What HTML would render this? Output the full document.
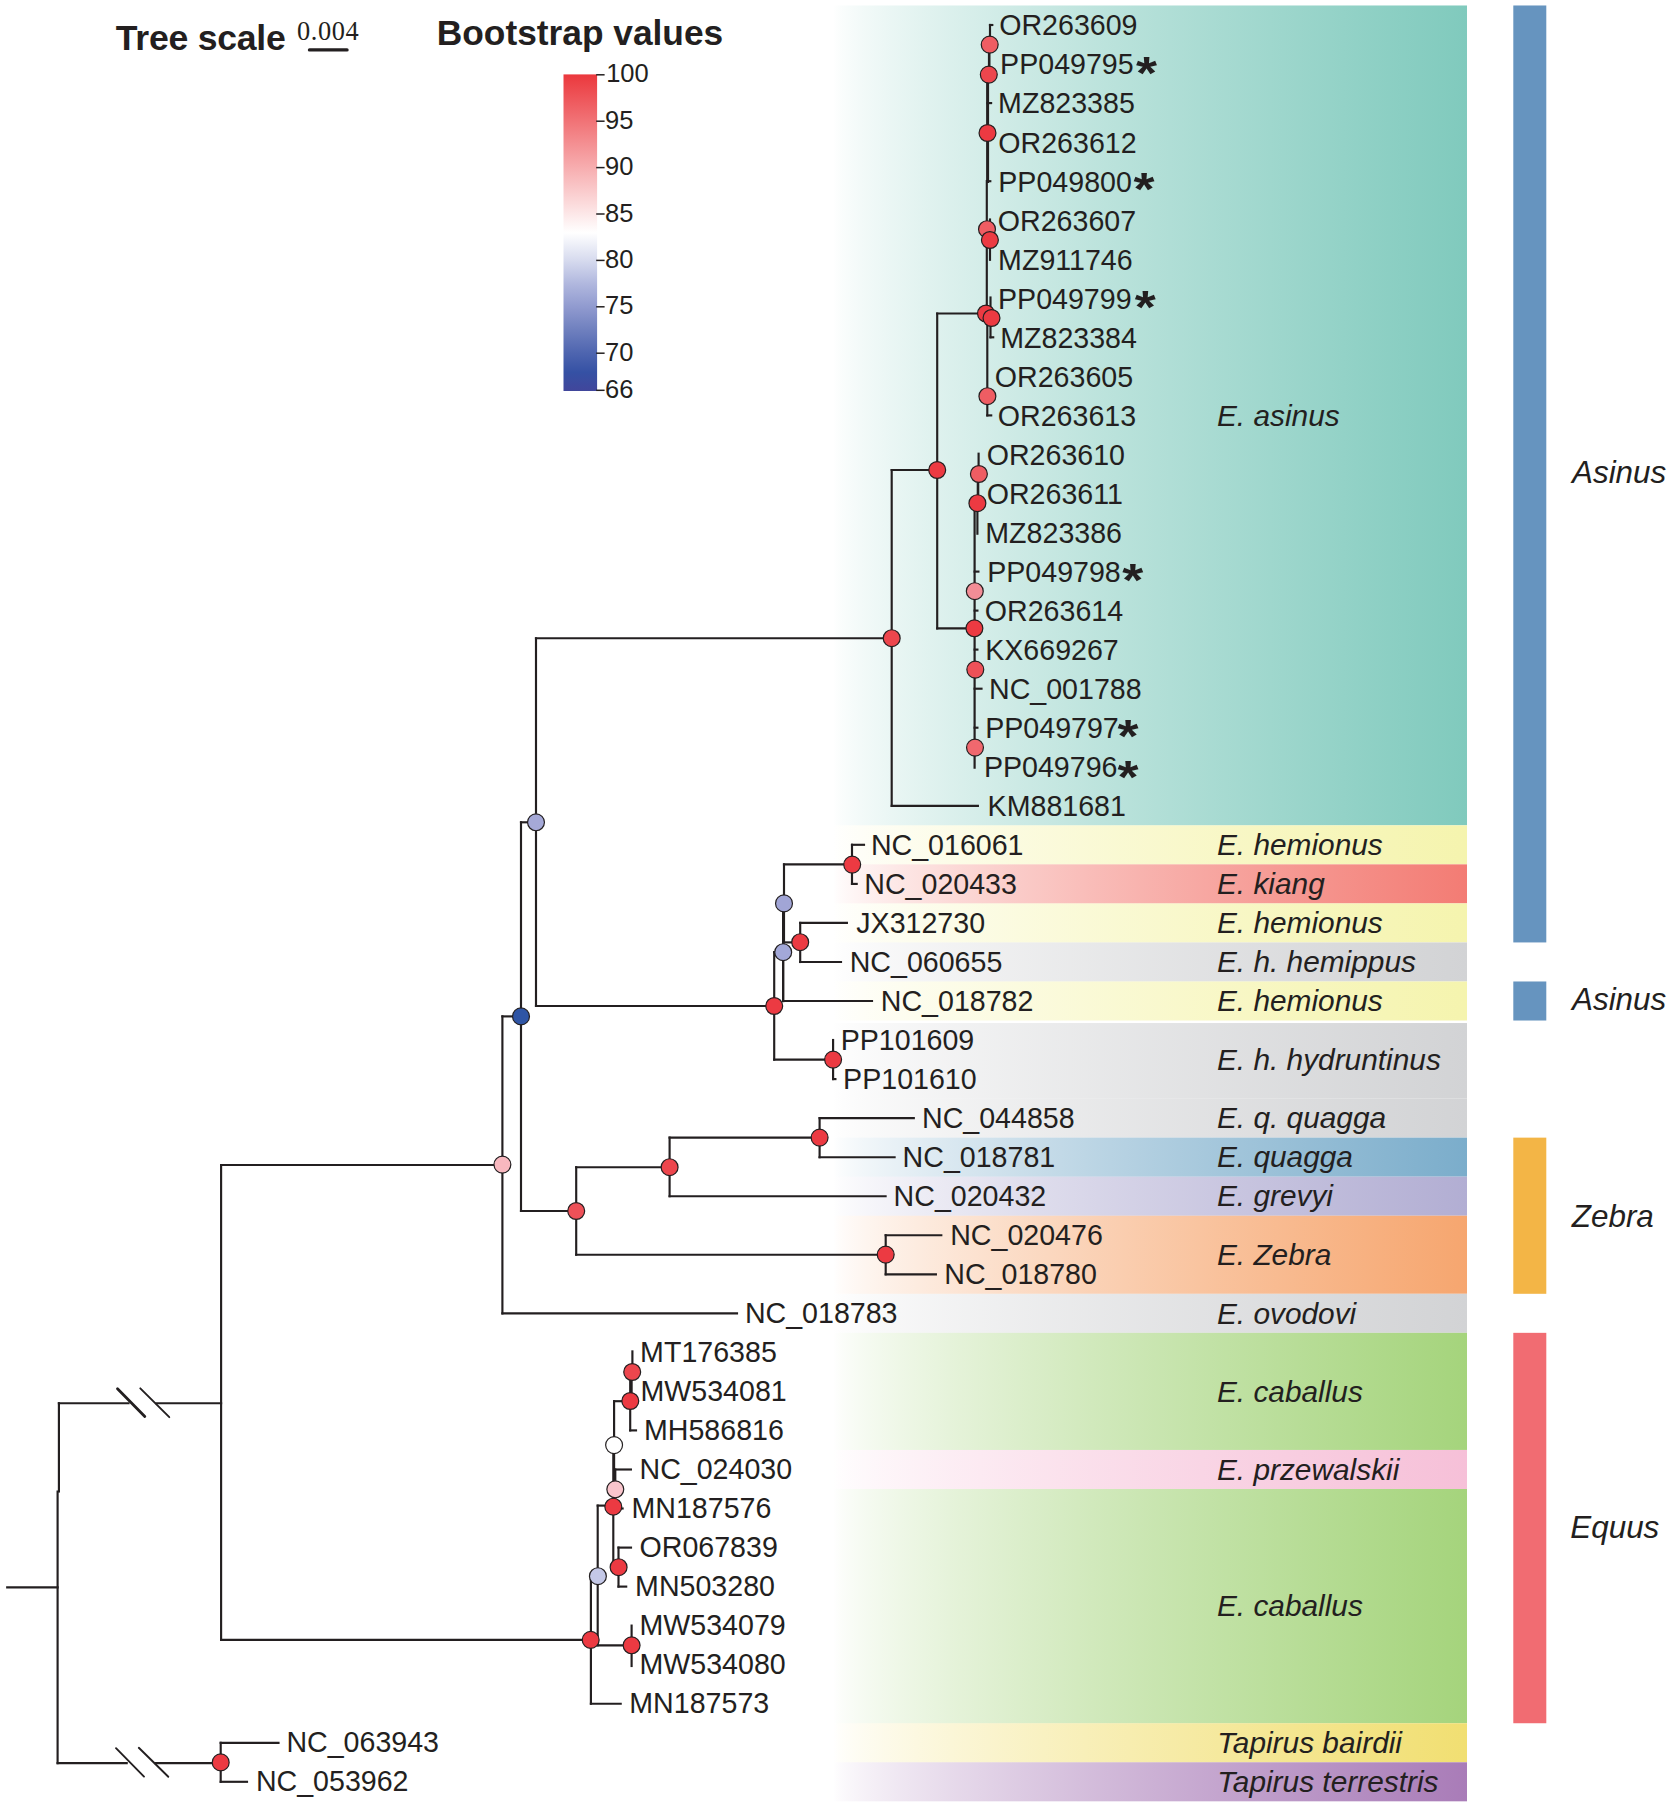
<!DOCTYPE html>
<html lang="en">
<head>
<meta charset="utf-8">
<title>Phylogenetic tree of Equus mitogenomes</title>
<style>
html,body{margin:0;padding:0;background:#fff;}
body{width:1670px;height:1808px;overflow:hidden;}
svg{display:block;}
</style>
</head>
<body>
<svg width="1670" height="1808" viewBox="0 0 1670 1808">
<rect x="0" y="0" width="1670" height="1808" fill="#ffffff"/>
<defs>
<linearGradient id="g-teal" gradientUnits="userSpaceOnUse" x1="833.5" y1="0" x2="1467" y2="0"><stop offset="0.000" stop-color="#80cabd" stop-opacity="0.000"/><stop offset="0.005" stop-color="#80cabd" stop-opacity="0.019"/><stop offset="0.010" stop-color="#80cabd" stop-opacity="0.032"/><stop offset="0.020" stop-color="#80cabd" stop-opacity="0.053"/><stop offset="0.035" stop-color="#80cabd" stop-opacity="0.081"/><stop offset="0.050" stop-color="#80cabd" stop-opacity="0.106"/><stop offset="0.075" stop-color="#80cabd" stop-opacity="0.143"/><stop offset="0.100" stop-color="#80cabd" stop-opacity="0.178"/><stop offset="0.150" stop-color="#80cabd" stop-opacity="0.241"/><stop offset="0.200" stop-color="#80cabd" stop-opacity="0.299"/><stop offset="0.300" stop-color="#80cabd" stop-opacity="0.405"/><stop offset="0.400" stop-color="#80cabd" stop-opacity="0.503"/><stop offset="0.500" stop-color="#80cabd" stop-opacity="0.595"/><stop offset="0.600" stop-color="#80cabd" stop-opacity="0.682"/><stop offset="0.700" stop-color="#80cabd" stop-opacity="0.765"/><stop offset="0.800" stop-color="#80cabd" stop-opacity="0.846"/><stop offset="0.900" stop-color="#80cabd" stop-opacity="0.924"/><stop offset="1.000" stop-color="#80cabd" stop-opacity="1.000"/></linearGradient>
<linearGradient id="g-yel" gradientUnits="userSpaceOnUse" x1="833.5" y1="0" x2="1467" y2="0"><stop offset="0.000" stop-color="#f5f4ae" stop-opacity="0.000"/><stop offset="0.005" stop-color="#f5f4ae" stop-opacity="0.019"/><stop offset="0.010" stop-color="#f5f4ae" stop-opacity="0.032"/><stop offset="0.020" stop-color="#f5f4ae" stop-opacity="0.053"/><stop offset="0.035" stop-color="#f5f4ae" stop-opacity="0.081"/><stop offset="0.050" stop-color="#f5f4ae" stop-opacity="0.106"/><stop offset="0.075" stop-color="#f5f4ae" stop-opacity="0.143"/><stop offset="0.100" stop-color="#f5f4ae" stop-opacity="0.178"/><stop offset="0.150" stop-color="#f5f4ae" stop-opacity="0.241"/><stop offset="0.200" stop-color="#f5f4ae" stop-opacity="0.299"/><stop offset="0.300" stop-color="#f5f4ae" stop-opacity="0.405"/><stop offset="0.400" stop-color="#f5f4ae" stop-opacity="0.503"/><stop offset="0.500" stop-color="#f5f4ae" stop-opacity="0.595"/><stop offset="0.600" stop-color="#f5f4ae" stop-opacity="0.682"/><stop offset="0.700" stop-color="#f5f4ae" stop-opacity="0.765"/><stop offset="0.800" stop-color="#f5f4ae" stop-opacity="0.846"/><stop offset="0.900" stop-color="#f5f4ae" stop-opacity="0.924"/><stop offset="1.000" stop-color="#f5f4ae" stop-opacity="1.000"/></linearGradient>
<linearGradient id="g-kia" gradientUnits="userSpaceOnUse" x1="833.5" y1="0" x2="1467" y2="0"><stop offset="0.000" stop-color="#f37c74" stop-opacity="0.000"/><stop offset="0.005" stop-color="#f37c74" stop-opacity="0.019"/><stop offset="0.010" stop-color="#f37c74" stop-opacity="0.032"/><stop offset="0.020" stop-color="#f37c74" stop-opacity="0.053"/><stop offset="0.035" stop-color="#f37c74" stop-opacity="0.081"/><stop offset="0.050" stop-color="#f37c74" stop-opacity="0.106"/><stop offset="0.075" stop-color="#f37c74" stop-opacity="0.143"/><stop offset="0.100" stop-color="#f37c74" stop-opacity="0.178"/><stop offset="0.150" stop-color="#f37c74" stop-opacity="0.241"/><stop offset="0.200" stop-color="#f37c74" stop-opacity="0.299"/><stop offset="0.300" stop-color="#f37c74" stop-opacity="0.405"/><stop offset="0.400" stop-color="#f37c74" stop-opacity="0.503"/><stop offset="0.500" stop-color="#f37c74" stop-opacity="0.595"/><stop offset="0.600" stop-color="#f37c74" stop-opacity="0.682"/><stop offset="0.700" stop-color="#f37c74" stop-opacity="0.765"/><stop offset="0.800" stop-color="#f37c74" stop-opacity="0.846"/><stop offset="0.900" stop-color="#f37c74" stop-opacity="0.924"/><stop offset="1.000" stop-color="#f37c74" stop-opacity="1.000"/></linearGradient>
<linearGradient id="g-gry" gradientUnits="userSpaceOnUse" x1="833.5" y1="0" x2="1467" y2="0"><stop offset="0.000" stop-color="#d2d3d5" stop-opacity="0.000"/><stop offset="0.005" stop-color="#d2d3d5" stop-opacity="0.019"/><stop offset="0.010" stop-color="#d2d3d5" stop-opacity="0.032"/><stop offset="0.020" stop-color="#d2d3d5" stop-opacity="0.053"/><stop offset="0.035" stop-color="#d2d3d5" stop-opacity="0.081"/><stop offset="0.050" stop-color="#d2d3d5" stop-opacity="0.106"/><stop offset="0.075" stop-color="#d2d3d5" stop-opacity="0.143"/><stop offset="0.100" stop-color="#d2d3d5" stop-opacity="0.178"/><stop offset="0.150" stop-color="#d2d3d5" stop-opacity="0.241"/><stop offset="0.200" stop-color="#d2d3d5" stop-opacity="0.299"/><stop offset="0.300" stop-color="#d2d3d5" stop-opacity="0.405"/><stop offset="0.400" stop-color="#d2d3d5" stop-opacity="0.503"/><stop offset="0.500" stop-color="#d2d3d5" stop-opacity="0.595"/><stop offset="0.600" stop-color="#d2d3d5" stop-opacity="0.682"/><stop offset="0.700" stop-color="#d2d3d5" stop-opacity="0.765"/><stop offset="0.800" stop-color="#d2d3d5" stop-opacity="0.846"/><stop offset="0.900" stop-color="#d2d3d5" stop-opacity="0.924"/><stop offset="1.000" stop-color="#d2d3d5" stop-opacity="1.000"/></linearGradient>
<linearGradient id="g-qua" gradientUnits="userSpaceOnUse" x1="833.5" y1="0" x2="1467" y2="0"><stop offset="0.000" stop-color="#7badcb" stop-opacity="0.000"/><stop offset="0.005" stop-color="#7badcb" stop-opacity="0.019"/><stop offset="0.010" stop-color="#7badcb" stop-opacity="0.032"/><stop offset="0.020" stop-color="#7badcb" stop-opacity="0.053"/><stop offset="0.035" stop-color="#7badcb" stop-opacity="0.081"/><stop offset="0.050" stop-color="#7badcb" stop-opacity="0.106"/><stop offset="0.075" stop-color="#7badcb" stop-opacity="0.143"/><stop offset="0.100" stop-color="#7badcb" stop-opacity="0.178"/><stop offset="0.150" stop-color="#7badcb" stop-opacity="0.241"/><stop offset="0.200" stop-color="#7badcb" stop-opacity="0.299"/><stop offset="0.300" stop-color="#7badcb" stop-opacity="0.405"/><stop offset="0.400" stop-color="#7badcb" stop-opacity="0.503"/><stop offset="0.500" stop-color="#7badcb" stop-opacity="0.595"/><stop offset="0.600" stop-color="#7badcb" stop-opacity="0.682"/><stop offset="0.700" stop-color="#7badcb" stop-opacity="0.765"/><stop offset="0.800" stop-color="#7badcb" stop-opacity="0.846"/><stop offset="0.900" stop-color="#7badcb" stop-opacity="0.924"/><stop offset="1.000" stop-color="#7badcb" stop-opacity="1.000"/></linearGradient>
<linearGradient id="g-gre" gradientUnits="userSpaceOnUse" x1="833.5" y1="0" x2="1467" y2="0"><stop offset="0.000" stop-color="#b2aed3" stop-opacity="0.000"/><stop offset="0.005" stop-color="#b2aed3" stop-opacity="0.019"/><stop offset="0.010" stop-color="#b2aed3" stop-opacity="0.032"/><stop offset="0.020" stop-color="#b2aed3" stop-opacity="0.053"/><stop offset="0.035" stop-color="#b2aed3" stop-opacity="0.081"/><stop offset="0.050" stop-color="#b2aed3" stop-opacity="0.106"/><stop offset="0.075" stop-color="#b2aed3" stop-opacity="0.143"/><stop offset="0.100" stop-color="#b2aed3" stop-opacity="0.178"/><stop offset="0.150" stop-color="#b2aed3" stop-opacity="0.241"/><stop offset="0.200" stop-color="#b2aed3" stop-opacity="0.299"/><stop offset="0.300" stop-color="#b2aed3" stop-opacity="0.405"/><stop offset="0.400" stop-color="#b2aed3" stop-opacity="0.503"/><stop offset="0.500" stop-color="#b2aed3" stop-opacity="0.595"/><stop offset="0.600" stop-color="#b2aed3" stop-opacity="0.682"/><stop offset="0.700" stop-color="#b2aed3" stop-opacity="0.765"/><stop offset="0.800" stop-color="#b2aed3" stop-opacity="0.846"/><stop offset="0.900" stop-color="#b2aed3" stop-opacity="0.924"/><stop offset="1.000" stop-color="#b2aed3" stop-opacity="1.000"/></linearGradient>
<linearGradient id="g-zeb" gradientUnits="userSpaceOnUse" x1="833.5" y1="0" x2="1467" y2="0"><stop offset="0.000" stop-color="#f6a66f" stop-opacity="0.000"/><stop offset="0.005" stop-color="#f6a66f" stop-opacity="0.019"/><stop offset="0.010" stop-color="#f6a66f" stop-opacity="0.032"/><stop offset="0.020" stop-color="#f6a66f" stop-opacity="0.053"/><stop offset="0.035" stop-color="#f6a66f" stop-opacity="0.081"/><stop offset="0.050" stop-color="#f6a66f" stop-opacity="0.106"/><stop offset="0.075" stop-color="#f6a66f" stop-opacity="0.143"/><stop offset="0.100" stop-color="#f6a66f" stop-opacity="0.178"/><stop offset="0.150" stop-color="#f6a66f" stop-opacity="0.241"/><stop offset="0.200" stop-color="#f6a66f" stop-opacity="0.299"/><stop offset="0.300" stop-color="#f6a66f" stop-opacity="0.405"/><stop offset="0.400" stop-color="#f6a66f" stop-opacity="0.503"/><stop offset="0.500" stop-color="#f6a66f" stop-opacity="0.595"/><stop offset="0.600" stop-color="#f6a66f" stop-opacity="0.682"/><stop offset="0.700" stop-color="#f6a66f" stop-opacity="0.765"/><stop offset="0.800" stop-color="#f6a66f" stop-opacity="0.846"/><stop offset="0.900" stop-color="#f6a66f" stop-opacity="0.924"/><stop offset="1.000" stop-color="#f6a66f" stop-opacity="1.000"/></linearGradient>
<linearGradient id="g-cab" gradientUnits="userSpaceOnUse" x1="833.5" y1="0" x2="1467" y2="0"><stop offset="0.000" stop-color="#a5d47c" stop-opacity="0.000"/><stop offset="0.005" stop-color="#a5d47c" stop-opacity="0.019"/><stop offset="0.010" stop-color="#a5d47c" stop-opacity="0.032"/><stop offset="0.020" stop-color="#a5d47c" stop-opacity="0.053"/><stop offset="0.035" stop-color="#a5d47c" stop-opacity="0.081"/><stop offset="0.050" stop-color="#a5d47c" stop-opacity="0.106"/><stop offset="0.075" stop-color="#a5d47c" stop-opacity="0.143"/><stop offset="0.100" stop-color="#a5d47c" stop-opacity="0.178"/><stop offset="0.150" stop-color="#a5d47c" stop-opacity="0.241"/><stop offset="0.200" stop-color="#a5d47c" stop-opacity="0.299"/><stop offset="0.300" stop-color="#a5d47c" stop-opacity="0.405"/><stop offset="0.400" stop-color="#a5d47c" stop-opacity="0.503"/><stop offset="0.500" stop-color="#a5d47c" stop-opacity="0.595"/><stop offset="0.600" stop-color="#a5d47c" stop-opacity="0.682"/><stop offset="0.700" stop-color="#a5d47c" stop-opacity="0.765"/><stop offset="0.800" stop-color="#a5d47c" stop-opacity="0.846"/><stop offset="0.900" stop-color="#a5d47c" stop-opacity="0.924"/><stop offset="1.000" stop-color="#a5d47c" stop-opacity="1.000"/></linearGradient>
<linearGradient id="g-prz" gradientUnits="userSpaceOnUse" x1="833.5" y1="0" x2="1467" y2="0"><stop offset="0.000" stop-color="#f6c0d8" stop-opacity="0.000"/><stop offset="0.005" stop-color="#f6c0d8" stop-opacity="0.019"/><stop offset="0.010" stop-color="#f6c0d8" stop-opacity="0.032"/><stop offset="0.020" stop-color="#f6c0d8" stop-opacity="0.053"/><stop offset="0.035" stop-color="#f6c0d8" stop-opacity="0.081"/><stop offset="0.050" stop-color="#f6c0d8" stop-opacity="0.106"/><stop offset="0.075" stop-color="#f6c0d8" stop-opacity="0.143"/><stop offset="0.100" stop-color="#f6c0d8" stop-opacity="0.178"/><stop offset="0.150" stop-color="#f6c0d8" stop-opacity="0.241"/><stop offset="0.200" stop-color="#f6c0d8" stop-opacity="0.299"/><stop offset="0.300" stop-color="#f6c0d8" stop-opacity="0.405"/><stop offset="0.400" stop-color="#f6c0d8" stop-opacity="0.503"/><stop offset="0.500" stop-color="#f6c0d8" stop-opacity="0.595"/><stop offset="0.600" stop-color="#f6c0d8" stop-opacity="0.682"/><stop offset="0.700" stop-color="#f6c0d8" stop-opacity="0.765"/><stop offset="0.800" stop-color="#f6c0d8" stop-opacity="0.846"/><stop offset="0.900" stop-color="#f6c0d8" stop-opacity="0.924"/><stop offset="1.000" stop-color="#f6c0d8" stop-opacity="1.000"/></linearGradient>
<linearGradient id="g-bai" gradientUnits="userSpaceOnUse" x1="833.5" y1="0" x2="1467" y2="0"><stop offset="0.000" stop-color="#f1df72" stop-opacity="0.000"/><stop offset="0.005" stop-color="#f1df72" stop-opacity="0.019"/><stop offset="0.010" stop-color="#f1df72" stop-opacity="0.032"/><stop offset="0.020" stop-color="#f1df72" stop-opacity="0.053"/><stop offset="0.035" stop-color="#f1df72" stop-opacity="0.081"/><stop offset="0.050" stop-color="#f1df72" stop-opacity="0.106"/><stop offset="0.075" stop-color="#f1df72" stop-opacity="0.143"/><stop offset="0.100" stop-color="#f1df72" stop-opacity="0.178"/><stop offset="0.150" stop-color="#f1df72" stop-opacity="0.241"/><stop offset="0.200" stop-color="#f1df72" stop-opacity="0.299"/><stop offset="0.300" stop-color="#f1df72" stop-opacity="0.405"/><stop offset="0.400" stop-color="#f1df72" stop-opacity="0.503"/><stop offset="0.500" stop-color="#f1df72" stop-opacity="0.595"/><stop offset="0.600" stop-color="#f1df72" stop-opacity="0.682"/><stop offset="0.700" stop-color="#f1df72" stop-opacity="0.765"/><stop offset="0.800" stop-color="#f1df72" stop-opacity="0.846"/><stop offset="0.900" stop-color="#f1df72" stop-opacity="0.924"/><stop offset="1.000" stop-color="#f1df72" stop-opacity="1.000"/></linearGradient>
<linearGradient id="g-ter" gradientUnits="userSpaceOnUse" x1="833.5" y1="0" x2="1467" y2="0"><stop offset="0.000" stop-color="#a97cb8" stop-opacity="0.000"/><stop offset="0.005" stop-color="#a97cb8" stop-opacity="0.019"/><stop offset="0.010" stop-color="#a97cb8" stop-opacity="0.032"/><stop offset="0.020" stop-color="#a97cb8" stop-opacity="0.053"/><stop offset="0.035" stop-color="#a97cb8" stop-opacity="0.081"/><stop offset="0.050" stop-color="#a97cb8" stop-opacity="0.106"/><stop offset="0.075" stop-color="#a97cb8" stop-opacity="0.143"/><stop offset="0.100" stop-color="#a97cb8" stop-opacity="0.178"/><stop offset="0.150" stop-color="#a97cb8" stop-opacity="0.241"/><stop offset="0.200" stop-color="#a97cb8" stop-opacity="0.299"/><stop offset="0.300" stop-color="#a97cb8" stop-opacity="0.405"/><stop offset="0.400" stop-color="#a97cb8" stop-opacity="0.503"/><stop offset="0.500" stop-color="#a97cb8" stop-opacity="0.595"/><stop offset="0.600" stop-color="#a97cb8" stop-opacity="0.682"/><stop offset="0.700" stop-color="#a97cb8" stop-opacity="0.765"/><stop offset="0.800" stop-color="#a97cb8" stop-opacity="0.846"/><stop offset="0.900" stop-color="#a97cb8" stop-opacity="0.924"/><stop offset="1.000" stop-color="#a97cb8" stop-opacity="1.000"/></linearGradient>
<linearGradient id="g-boot" x1="0" y1="0" x2="0" y2="1"><stop offset="0.0000" stop-color="#eb383d"/><stop offset="0.5000" stop-color="#ffffff"/><stop offset="0.5882" stop-color="#d6daee"/><stop offset="0.6618" stop-color="#b0b7de"/><stop offset="0.7353" stop-color="#909acf"/><stop offset="0.8088" stop-color="#6e7fbe"/><stop offset="0.8824" stop-color="#4d64af"/><stop offset="0.9412" stop-color="#3551a4"/><stop offset="1.0000" stop-color="#41469b"/></linearGradient>
</defs>
<g id="bands">
<rect x="833.5" y="5.48" width="633.5" height="819.84" fill="url(#g-teal)"/>
<rect x="833.5" y="825.32" width="633.5" height="39.04" fill="url(#g-yel)"/>
<rect x="833.5" y="864.36" width="633.5" height="39.04" fill="url(#g-kia)"/>
<rect x="833.5" y="903.40" width="633.5" height="39.04" fill="url(#g-yel)"/>
<rect x="833.5" y="942.44" width="633.5" height="39.04" fill="url(#g-gry)"/>
<rect x="833.5" y="981.48" width="633.5" height="39.04" fill="url(#g-yel)"/>
<rect x="833.5" y="1023.02" width="633.5" height="75.58" fill="url(#g-gry)"/>
<rect x="833.5" y="1098.60" width="633.5" height="39.04" fill="url(#g-gry)"/>
<rect x="833.5" y="1137.64" width="633.5" height="39.04" fill="url(#g-qua)"/>
<rect x="833.5" y="1176.68" width="633.5" height="39.04" fill="url(#g-gre)"/>
<rect x="833.5" y="1215.72" width="633.5" height="78.08" fill="url(#g-zeb)"/>
<rect x="833.5" y="1293.80" width="633.5" height="39.04" fill="url(#g-gry)"/>
<rect x="833.5" y="1332.84" width="633.5" height="117.12" fill="url(#g-cab)"/>
<rect x="833.5" y="1449.96" width="633.5" height="39.04" fill="url(#g-prz)"/>
<rect x="833.5" y="1489.00" width="633.5" height="234.24" fill="url(#g-cab)"/>
<rect x="833.5" y="1723.24" width="633.5" height="39.04" fill="url(#g-bai)"/>
<rect x="833.5" y="1762.28" width="633.5" height="39.04" fill="url(#g-ter)"/>
</g>
<g id="groupbars">
<rect x="1513.3" y="5.48" width="33" height="936.96" fill="#6694bf"/>
<rect x="1513.3" y="981.48" width="33" height="39.04" fill="#6694bf"/>
<rect x="1513.3" y="1137.64" width="33" height="156.16" fill="#f3b546"/>
<rect x="1513.3" y="1332.84" width="33" height="390.40" fill="#f16c72"/>
</g>
<g id="tree" stroke="#231f20" stroke-linecap="square" fill="none">
<line x1="7.2" y1="1587.3" x2="57.6" y2="1587.3" stroke-width="2.15"/>
<line x1="58.9" y1="1403.2" x2="58.9" y2="1491.5" stroke-width="2.15"/>
<line x1="57.6" y1="1491.5" x2="57.6" y2="1763.1" stroke-width="2.15"/>
<line x1="58.9" y1="1403.2" x2="128.5" y2="1403.2" stroke-width="2.15"/>
<line x1="156.4" y1="1403.2" x2="221.1" y2="1403.2" stroke-width="2.15"/>
<line x1="57.6" y1="1763.1" x2="126.7" y2="1763.1" stroke-width="2.15"/>
<line x1="155.5" y1="1763.1" x2="220.7" y2="1763.1" stroke-width="2.15"/>
<line x1="221.1" y1="1165.0" x2="221.1" y2="1639.8" stroke-width="2.15"/>
<line x1="221.1" y1="1165.0" x2="502.4" y2="1165.0" stroke-width="2.15"/>
<line x1="221.1" y1="1639.8" x2="590.7" y2="1639.8" stroke-width="2.15"/>
<line x1="220.7" y1="1742.8" x2="220.7" y2="1781.8" stroke-width="2.15"/>
<line x1="220.7" y1="1742.8" x2="278.5" y2="1742.8" stroke-width="2.15"/>
<line x1="220.7" y1="1781.8" x2="247.0" y2="1781.8" stroke-width="2.15"/>
<line x1="502.4" y1="1016.4" x2="502.4" y2="1313.3" stroke-width="2.15"/>
<line x1="502.4" y1="1313.3" x2="737.0" y2="1313.3" stroke-width="2.15"/>
<line x1="502.4" y1="1016.4" x2="521.0" y2="1016.4" stroke-width="2.15"/>
<line x1="521.0" y1="822.3" x2="521.0" y2="1211.0" stroke-width="2.15"/>
<line x1="521.0" y1="822.3" x2="536.0" y2="822.3" stroke-width="2.15"/>
<line x1="521.0" y1="1211.0" x2="576.2" y2="1211.0" stroke-width="2.15"/>
<line x1="536.0" y1="638.2" x2="536.0" y2="1006.0" stroke-width="2.15"/>
<line x1="536.0" y1="638.2" x2="891.7" y2="638.2" stroke-width="2.15"/>
<line x1="536.0" y1="1006.0" x2="774.2" y2="1006.0" stroke-width="2.15"/>
<line x1="891.7" y1="470.0" x2="891.7" y2="805.8" stroke-width="2.15"/>
<line x1="891.7" y1="805.8" x2="977.9" y2="805.8" stroke-width="2.15"/>
<line x1="891.7" y1="470.0" x2="937.2" y2="470.0" stroke-width="2.15"/>
<line x1="937.2" y1="313.5" x2="937.2" y2="628.3" stroke-width="2.15"/>
<line x1="937.2" y1="313.5" x2="986.0" y2="313.5" stroke-width="2.15"/>
<line x1="937.2" y1="628.3" x2="974.4" y2="628.3" stroke-width="2.15"/>
<line x1="990.0" y1="25.0" x2="990.0" y2="44.6" stroke-width="2.15"/>
<line x1="990.0" y1="25.0" x2="992.3" y2="25.0" stroke-width="2.15"/>
<line x1="989.2" y1="44.6" x2="989.2" y2="74.6" stroke-width="2.6"/>
<line x1="987.6" y1="74.6" x2="987.6" y2="181.5" stroke-width="3.0"/>
<line x1="987.6" y1="103.1" x2="991.1" y2="103.1" stroke-width="2.15"/>
<line x1="987.2" y1="181.2" x2="990.3" y2="181.2" stroke-width="2.15"/>
<line x1="986.8" y1="181.0" x2="986.8" y2="313.5" stroke-width="2.15"/>
<line x1="990.0" y1="219.5" x2="990.0" y2="240.0" stroke-width="2.15"/>
<line x1="990.0" y1="240.0" x2="990.0" y2="259.8" stroke-width="2.15"/>
<line x1="990.5" y1="297.5" x2="990.5" y2="337.3" stroke-width="2.15"/>
<line x1="990.5" y1="337.3" x2="993.2" y2="337.3" stroke-width="2.15"/>
<line x1="987.3" y1="313.5" x2="987.3" y2="415.4" stroke-width="2.15"/>
<line x1="987.3" y1="415.4" x2="991.2" y2="415.4" stroke-width="2.15"/>
<line x1="978.6" y1="453.7" x2="978.6" y2="474.0" stroke-width="2.15"/>
<line x1="978.0" y1="474.0" x2="978.0" y2="503.0" stroke-width="2.6"/>
<line x1="977.4" y1="503.0" x2="977.4" y2="533.7" stroke-width="2.15"/>
<line x1="974.6" y1="503.0" x2="974.6" y2="767.6" stroke-width="2.2"/>
<line x1="974.6" y1="503.0" x2="977.4" y2="503.0" stroke-width="2.15"/>
<line x1="974.6" y1="571.6" x2="978.4" y2="571.6" stroke-width="2.15"/>
<line x1="974.6" y1="610.6" x2="977.4" y2="610.6" stroke-width="2.15"/>
<line x1="974.6" y1="649.6" x2="977.4" y2="649.6" stroke-width="2.15"/>
<line x1="974.6" y1="688.7" x2="981.5" y2="688.7" stroke-width="2.15"/>
<line x1="974.6" y1="727.7" x2="977.4" y2="727.7" stroke-width="2.15"/>
<line x1="774.2" y1="952.2" x2="774.2" y2="1059.6" stroke-width="2.15"/>
<line x1="774.2" y1="952.2" x2="783.2" y2="952.2" stroke-width="2.15"/>
<line x1="774.2" y1="1059.6" x2="833.1" y2="1059.6" stroke-width="2.15"/>
<line x1="783.2" y1="903.4" x2="783.2" y2="1001.0" stroke-width="2.4"/>
<line x1="783.2" y1="1001.0" x2="872.0" y2="1001.0" stroke-width="2.15"/>
<line x1="784.0" y1="864.4" x2="784.0" y2="942.4" stroke-width="2.15"/>
<line x1="784.0" y1="864.4" x2="852.0" y2="864.4" stroke-width="2.15"/>
<line x1="784.0" y1="942.4" x2="800.2" y2="942.4" stroke-width="2.15"/>
<line x1="852.0" y1="844.8" x2="852.0" y2="883.9" stroke-width="2.15"/>
<line x1="852.0" y1="844.8" x2="864.0" y2="844.8" stroke-width="2.15"/>
<line x1="852.0" y1="883.9" x2="856.7" y2="883.9" stroke-width="2.15"/>
<line x1="800.2" y1="922.9" x2="800.2" y2="962.0" stroke-width="2.15"/>
<line x1="800.2" y1="922.9" x2="846.9" y2="922.9" stroke-width="2.15"/>
<line x1="800.2" y1="962.0" x2="841.0" y2="962.0" stroke-width="2.15"/>
<line x1="833.1" y1="1040.0" x2="833.1" y2="1079.1" stroke-width="2.15"/>
<line x1="833.1" y1="1079.1" x2="835.4" y2="1079.1" stroke-width="2.15"/>
<line x1="576.2" y1="1167.2" x2="576.2" y2="1254.7" stroke-width="2.15"/>
<line x1="576.2" y1="1167.2" x2="669.6" y2="1167.2" stroke-width="2.15"/>
<line x1="576.2" y1="1254.7" x2="885.7" y2="1254.7" stroke-width="2.15"/>
<line x1="669.6" y1="1137.6" x2="669.6" y2="1196.2" stroke-width="2.15"/>
<line x1="669.6" y1="1137.6" x2="819.6" y2="1137.6" stroke-width="2.15"/>
<line x1="669.6" y1="1196.2" x2="885.6" y2="1196.2" stroke-width="2.15"/>
<line x1="819.6" y1="1118.1" x2="819.6" y2="1157.2" stroke-width="2.15"/>
<line x1="819.6" y1="1118.1" x2="913.8" y2="1118.1" stroke-width="2.15"/>
<line x1="819.6" y1="1157.2" x2="894.6" y2="1157.2" stroke-width="2.15"/>
<line x1="885.7" y1="1235.2" x2="885.7" y2="1274.3" stroke-width="2.15"/>
<line x1="885.7" y1="1235.2" x2="941.3" y2="1235.2" stroke-width="2.15"/>
<line x1="885.7" y1="1274.3" x2="935.9" y2="1274.3" stroke-width="2.15"/>
<line x1="590.9" y1="1576.0" x2="590.9" y2="1703.7" stroke-width="2.15"/>
<line x1="590.9" y1="1703.7" x2="620.7" y2="1703.7" stroke-width="2.15"/>
<line x1="590.9" y1="1576.0" x2="597.7" y2="1576.0" stroke-width="2.15"/>
<line x1="597.7" y1="1505.6" x2="597.7" y2="1645.3" stroke-width="2.15"/>
<line x1="597.7" y1="1645.3" x2="631.6" y2="1645.3" stroke-width="2.15"/>
<line x1="597.7" y1="1505.6" x2="613.3" y2="1505.6" stroke-width="2.15"/>
<line x1="631.6" y1="1625.6" x2="631.6" y2="1666.0" stroke-width="2.15"/>
<line x1="613.3" y1="1445.0" x2="613.3" y2="1567.2" stroke-width="2.15"/>
<line x1="614.1" y1="1401.2" x2="614.1" y2="1489.0" stroke-width="2.15"/>
<line x1="615.3" y1="1469.5" x2="615.3" y2="1508.5" stroke-width="2.15"/>
<line x1="615.3" y1="1469.5" x2="630.9" y2="1469.5" stroke-width="2.15"/>
<line x1="615.3" y1="1508.5" x2="622.6" y2="1508.5" stroke-width="2.15"/>
<line x1="614.1" y1="1401.2" x2="630.2" y2="1401.2" stroke-width="2.15"/>
<line x1="613.3" y1="1567.2" x2="618.5" y2="1567.2" stroke-width="2.15"/>
<line x1="618.5" y1="1547.6" x2="618.5" y2="1586.6" stroke-width="2.15"/>
<line x1="618.5" y1="1547.6" x2="631.0" y2="1547.6" stroke-width="2.15"/>
<line x1="618.5" y1="1586.6" x2="626.2" y2="1586.6" stroke-width="2.15"/>
<line x1="630.2" y1="1372.0" x2="630.2" y2="1430.4" stroke-width="2.15"/>
<line x1="630.2" y1="1430.4" x2="636.0" y2="1430.4" stroke-width="2.15"/>
<line x1="631.4" y1="1372.0" x2="631.4" y2="1401.0" stroke-width="2.6"/>
<line x1="632.4" y1="1351.4" x2="632.4" y2="1372.0" stroke-width="2.15"/>
<g stroke-linecap="round">
<line x1="117.5" y1="1388.8" x2="144.8" y2="1416.6" stroke-width="2.8"/>
<line x1="140.3" y1="1388.3" x2="169.3" y2="1417.2" stroke-width="1.9"/>
<line x1="116" y1="1748.2" x2="144" y2="1776.6" stroke-width="1.9"/>
<line x1="138.8" y1="1747.8" x2="168.3" y2="1776.8" stroke-width="1.9"/>
</g>
</g>
<g id="nodes" stroke="#231f20" stroke-width="1.2">
<circle cx="989.7" cy="44.6" r="8.45" fill="#ef5d63"/>
<circle cx="988.8" cy="74.6" r="8.45" fill="#ed464d"/>
<circle cx="987.5" cy="133.0" r="8.45" fill="#ec3a42"/>
<circle cx="987.0" cy="229.2" r="8.45" fill="#ef5d63"/>
<circle cx="989.9" cy="240.0" r="8.45" fill="#ec3a42"/>
<circle cx="986.0" cy="313.5" r="8.45" fill="#ec3a42"/>
<circle cx="991.5" cy="318.0" r="8.45" fill="#ec3a42"/>
<circle cx="987.4" cy="396.2" r="8.45" fill="#ef5d63"/>
<circle cx="978.9" cy="474.0" r="8.45" fill="#ef5d63"/>
<circle cx="977.4" cy="503.2" r="8.45" fill="#ec3a42"/>
<circle cx="974.8" cy="591.2" r="8.45" fill="#f28d96"/>
<circle cx="974.4" cy="628.3" r="8.45" fill="#ec3a42"/>
<circle cx="975.3" cy="669.6" r="8.45" fill="#ee5158"/>
<circle cx="975.0" cy="747.6" r="8.45" fill="#f0686e"/>
<circle cx="937.2" cy="470.0" r="8.45" fill="#ec3a42"/>
<circle cx="891.7" cy="638.2" r="8.45" fill="#ed464d"/>
<circle cx="536.0" cy="822.3" r="8.45" fill="#a5a9d8"/>
<circle cx="521.0" cy="1016.4" r="8.45" fill="#2f55a5"/>
<circle cx="502.4" cy="1164.6" r="8.45" fill="#f8b8bf"/>
<circle cx="852.2" cy="864.6" r="8.45" fill="#ec3a42"/>
<circle cx="784.0" cy="903.4" r="8.45" fill="#a1a5d6"/>
<circle cx="800.2" cy="942.2" r="8.45" fill="#ec3a42"/>
<circle cx="783.2" cy="952.2" r="8.45" fill="#a3a8d8"/>
<circle cx="774.2" cy="1006.0" r="8.45" fill="#ec3a42"/>
<circle cx="833.1" cy="1059.6" r="8.45" fill="#ec3a42"/>
<circle cx="819.6" cy="1137.6" r="8.45" fill="#ec3a42"/>
<circle cx="669.6" cy="1167.2" r="8.45" fill="#ed464d"/>
<circle cx="576.2" cy="1211.0" r="8.45" fill="#ee5158"/>
<circle cx="885.7" cy="1254.6" r="8.45" fill="#ec3a42"/>
<circle cx="632.2" cy="1372.0" r="8.45" fill="#ed464d"/>
<circle cx="630.3" cy="1401.0" r="8.45" fill="#ec3a42"/>
<circle cx="614.1" cy="1445.1" r="8.45" fill="#ffffff"/>
<circle cx="615.3" cy="1489.3" r="8.45" fill="#f9c5cc"/>
<circle cx="613.3" cy="1506.7" r="8.45" fill="#ec3a42"/>
<circle cx="618.6" cy="1567.2" r="8.45" fill="#ec3a42"/>
<circle cx="597.9" cy="1576.2" r="8.45" fill="#c4c8e7"/>
<circle cx="590.7" cy="1639.9" r="8.45" fill="#ec3a42"/>
<circle cx="631.6" cy="1645.3" r="8.45" fill="#ec3a42"/>
<circle cx="220.7" cy="1762.4" r="8.45" fill="#ec3a42"/>
</g>
<g id="tips" fill="#231f20" font-family="'Liberation Sans', Arial, sans-serif" font-size="28.6">
<text x="999.2" y="35.4">OR263609</text>
<text x="1000.1" y="74.4">PP049795</text>
<text x="998.1" y="113.4">MZ823385</text>
<text x="998.3" y="152.5">OR263612</text>
<text x="998.3" y="191.5">PP049800</text>
<text x="997.8" y="230.5">OR263607</text>
<text x="998.1" y="269.5">MZ911746</text>
<text x="998.0" y="308.5">PP049799</text>
<text x="1000.2" y="347.6">MZ823384</text>
<text x="994.8" y="386.6">OR263605</text>
<text x="997.8" y="425.6">OR263613</text>
<text x="986.7" y="464.6">OR263610</text>
<text x="986.7" y="503.6">OR263611</text>
<text x="985.3" y="542.7">MZ823386</text>
<text x="987.2" y="581.7">PP049798</text>
<text x="984.8" y="620.7">OR263614</text>
<text x="985.2" y="659.7">KX669267</text>
<text x="989.0" y="698.7">NC_001788</text>
<text x="985.2" y="737.8">PP049797</text>
<text x="983.9" y="776.8">PP049796</text>
<text x="987.6" y="815.8">KM881681</text>
<text x="870.9" y="854.8">NC_016061</text>
<text x="864.3" y="893.8">NC_020433</text>
<text x="856.3" y="932.9">JX312730</text>
<text x="849.7" y="971.9">NC_060655</text>
<text x="880.8" y="1010.9">NC_018782</text>
<text x="840.7" y="1049.9">PP101609</text>
<text x="843.1" y="1088.9">PP101610</text>
<text x="922.0" y="1128.0">NC_044858</text>
<text x="902.6" y="1167.0">NC_018781</text>
<text x="893.6" y="1206.0">NC_020432</text>
<text x="950.2" y="1245.0">NC_020476</text>
<text x="944.3" y="1284.0">NC_018780</text>
<text x="744.9" y="1323.1">NC_018783</text>
<text x="640.1" y="1362.1">MT176385</text>
<text x="640.5" y="1401.1">MW534081</text>
<text x="644.0" y="1440.1">MH586816</text>
<text x="639.5" y="1479.1">NC_024030</text>
<text x="631.5" y="1518.2">MN187576</text>
<text x="639.5" y="1557.2">OR067839</text>
<text x="635.1" y="1596.2">MN503280</text>
<text x="639.5" y="1635.2">MW534079</text>
<text x="639.5" y="1674.2">MW534080</text>
<text x="629.3" y="1713.3">MN187573</text>
<text x="286.4" y="1752.3">NC_063943</text>
<text x="255.9" y="1791.3">NC_053962</text>
<text transform="translate(1146.5,66) scale(1.08,0.93)" x="-9.75" y="25.1" font-size="50" font-weight="bold">*</text>
<text transform="translate(1144,181.8) scale(1.08,0.93)" x="-9.75" y="25.1" font-size="50" font-weight="bold">*</text>
<text transform="translate(1145.3,299.3) scale(1.08,0.93)" x="-9.75" y="25.1" font-size="50" font-weight="bold">*</text>
<text transform="translate(1132.7,573.1) scale(1.08,0.93)" x="-9.75" y="25.1" font-size="50" font-weight="bold">*</text>
<text transform="translate(1128.1,728.8) scale(1.08,0.93)" x="-9.75" y="25.1" font-size="50" font-weight="bold">*</text>
<text transform="translate(1128.1,769.9) scale(1.08,0.93)" x="-9.75" y="25.1" font-size="50" font-weight="bold">*</text>
</g>
<g id="species" fill="#231f20" font-family="'Liberation Sans', Arial, sans-serif" font-size="29.85" font-style="italic">
<text x="1216.9" y="425.6">E. asinus</text>
<text x="1216.9" y="855.0">E. hemionus</text>
<text x="1216.9" y="894.1">E. kiang</text>
<text x="1216.9" y="933.1">E. hemionus</text>
<text x="1216.9" y="972.2">E. h. hemippus</text>
<text x="1216.9" y="1011.2">E. hemionus</text>
<text x="1216.9" y="1069.8">E. h. hydruntinus</text>
<text x="1216.9" y="1128.3">E. q. quagga</text>
<text x="1216.9" y="1167.4">E. quagga</text>
<text x="1216.9" y="1206.4">E. grevyi</text>
<text x="1216.9" y="1265.0">E. Zebra</text>
<text x="1216.9" y="1323.5">E. ovodovi</text>
<text x="1216.9" y="1401.6">E. caballus</text>
<text x="1216.9" y="1479.7">E. przewalskii</text>
<text x="1216.9" y="1616.3">E. caballus</text>
<text x="1217.3" y="1753.0">Tapirus bairdii</text>
<text x="1217.3" y="1792.0">Tapirus terrestris</text>
</g>
<g id="groups" fill="#231f20" font-family="'Liberation Sans', Arial, sans-serif" font-size="31.4" font-style="italic">
<text x="1572" y="483.4">Asinus</text>
<text x="1572" y="1010">Asinus</text>
<text x="1571.8" y="1226.5">Zebra</text>
<text x="1570.3" y="1537.5">Equus</text>
</g>
<g id="legend" fill="#231f20" font-family="'Liberation Sans', Arial, sans-serif">
<text x="115.8" y="50.3" font-size="35.6" font-weight="bold" textLength="170" lengthAdjust="spacing">Tree scale</text>
<text x="297" y="40.3" font-size="26.4" font-family="'Liberation Serif', 'Times New Roman', serif" textLength="61.8" lengthAdjust="spacing">0.004</text>
<line x1="309.5" y1="49.9" x2="347" y2="49.9" stroke="#231f20" stroke-width="3.4" stroke-linecap="round"/>
<text x="436.8" y="45.3" font-size="35.3" font-weight="bold">Bootstrap values</text>
<rect x="563.5" y="74.4" width="33.6" height="316.6" fill="url(#g-boot)"/>
<g stroke="#231f20" stroke-width="1.5" font-size="25.5">
<line x1="596.2" y1="74.8" x2="604.6" y2="74.8"/>
<text x="606.2" y="82.4" stroke="none">100</text>
<line x1="596.2" y1="121.2" x2="604.6" y2="121.2"/>
<text x="605.0" y="128.8" stroke="none">95</text>
<line x1="596.2" y1="167.6" x2="604.6" y2="167.6"/>
<text x="605.0" y="175.2" stroke="none">90</text>
<line x1="596.2" y1="214.0" x2="604.6" y2="214.0"/>
<text x="605.0" y="221.6" stroke="none">85</text>
<line x1="596.2" y1="260.4" x2="604.6" y2="260.4"/>
<text x="605.0" y="268.0" stroke="none">80</text>
<line x1="596.2" y1="306.8" x2="604.6" y2="306.8"/>
<text x="605.0" y="314.4" stroke="none">75</text>
<line x1="596.2" y1="353.2" x2="604.6" y2="353.2"/>
<text x="605.0" y="360.8" stroke="none">70</text>
<line x1="596.2" y1="390.3" x2="604.6" y2="390.3"/>
<text x="605.0" y="397.9" stroke="none">66</text>
</g></g>
</svg>
</body>
</html>
